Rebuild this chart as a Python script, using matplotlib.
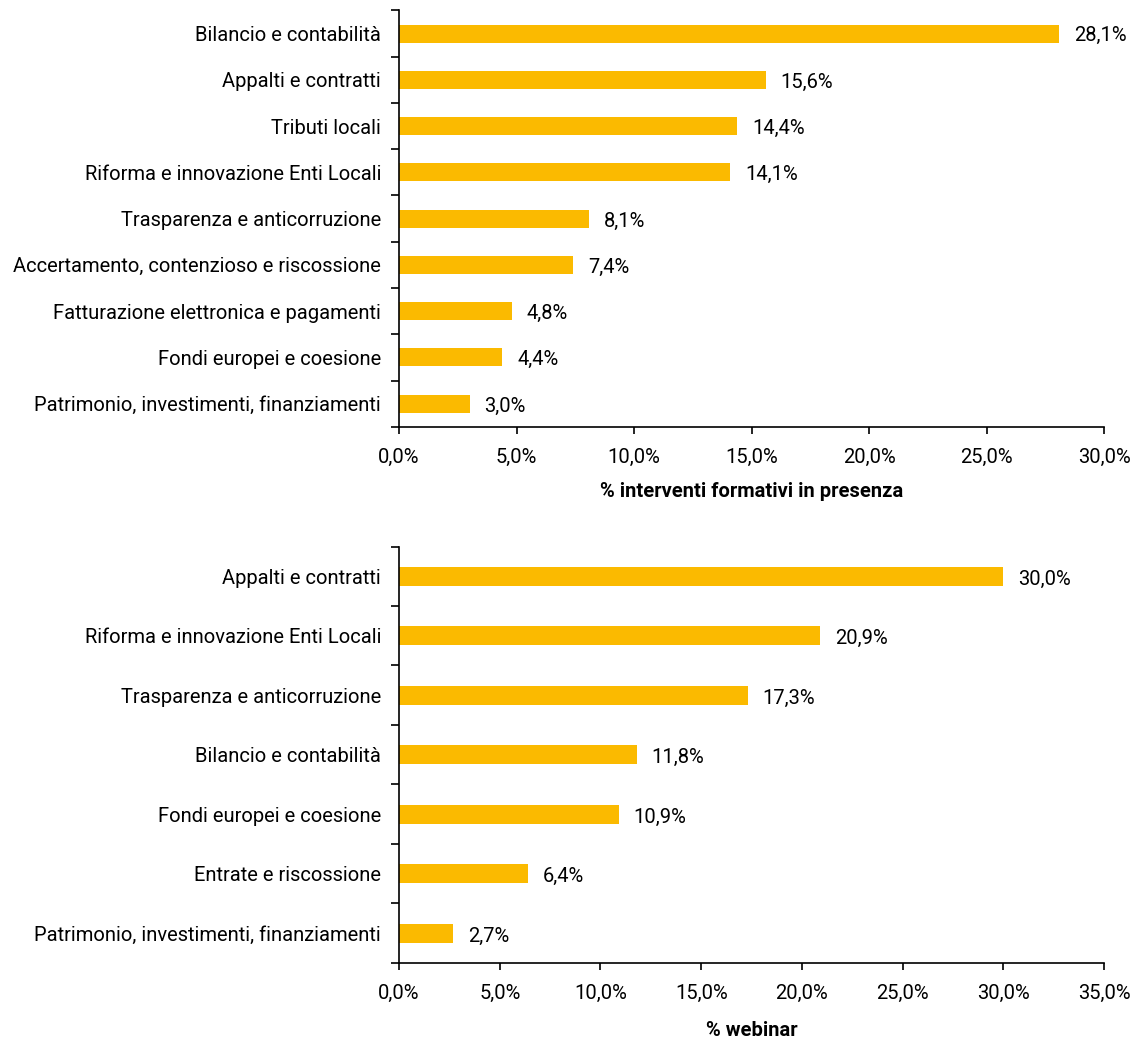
import matplotlib.pyplot as plt
import matplotlib.ticker as mticker
import numpy as np

plt.rcParams['font.family'] = ['Roboto', 'DejaVu Sans']

presenza_labels = [
    "Bilancio e contabilità",
    "Appalti e contratti",
    "Tributi locali",
    "Riforma e innovazione Enti Locali",
    "Trasparenza e anticorruzione",
    "Accertamento, contenzioso e riscossione",
    "Fatturazione elettronica e pagamenti",
    "Fondi europei e coesione",
    "Patrimonio, investimenti, finanziamenti",
]
presenza_values = [28.1, 15.6, 14.4, 14.1, 8.1, 7.4, 4.8, 4.4, 3.0]

webinar_labels = [
    "Appalti e contratti",
    "Riforma e innovazione Enti Locali",
    "Trasparenza e anticorruzione",
    "Bilancio e contabilità",
    "Fondi europei e coesione",
    "Entrate e riscossione",
    "Patrimonio, investimenti, finanziamenti",
]
webinar_values = [30.0, 20.9, 17.3, 11.8, 10.9, 6.4, 2.7]

BAR_COLOR = "#FBBA00"
FS = 14.5


def pct(v, _pos=None):
    return f"{v:.1f}%".replace(".", ",")


def draw_panel(ax, labels, values, xmax, xlabel, bar_h, labelpad):
    n = len(labels)
    y = np.arange(n)
    ax.barh(y, values, height=bar_h, color=BAR_COLOR)
    for yi, v in zip(y, values):
        ax.text(v + xmax * 0.021, yi + 0.05, pct(v), va="center", ha="left", fontsize=FS)
    ax.set_ylim(n - 0.5, -0.5)
    ax.set_xlim(0, xmax)
    ax.set_yticks(y)
    ax.set_yticklabels(labels, fontsize=FS)
    ax.set_yticks(np.arange(n + 1) - 0.5, minor=True)
    ax.tick_params(axis="y", which="major", length=0, pad=13)
    ax.tick_params(axis="y", which="minor", length=5.5, width=1.2)
    ax.set_xticks(np.arange(0, xmax + 0.1, 5))
    ax.xaxis.set_major_formatter(mticker.FuncFormatter(pct))
    ax.tick_params(axis="x", length=5, width=1.2, labelsize=FS, pad=10)
    for s in ["top", "right"]:
        ax.spines[s].set_visible(False)
    for s in ["left", "bottom"]:
        ax.spines[s].set_linewidth(1.2)
    ax.set_xlabel(xlabel, fontsize=14.5, fontweight="bold", labelpad=labelpad)


fig = plt.figure(figsize=(11.37, 10.41), dpi=100)
ax1 = fig.add_axes([0.351, 0.590, 0.620, 0.400])
ax2 = fig.add_axes([0.351, 0.075, 0.620, 0.400])

draw_panel(ax1, presenza_labels, presenza_values, 30, "% interventi formativi in presenza", 0.39, 11)
draw_panel(ax2, webinar_labels, webinar_values, 35, "% webinar", 0.32, 13)

fig.savefig("out.png", dpi=100)
